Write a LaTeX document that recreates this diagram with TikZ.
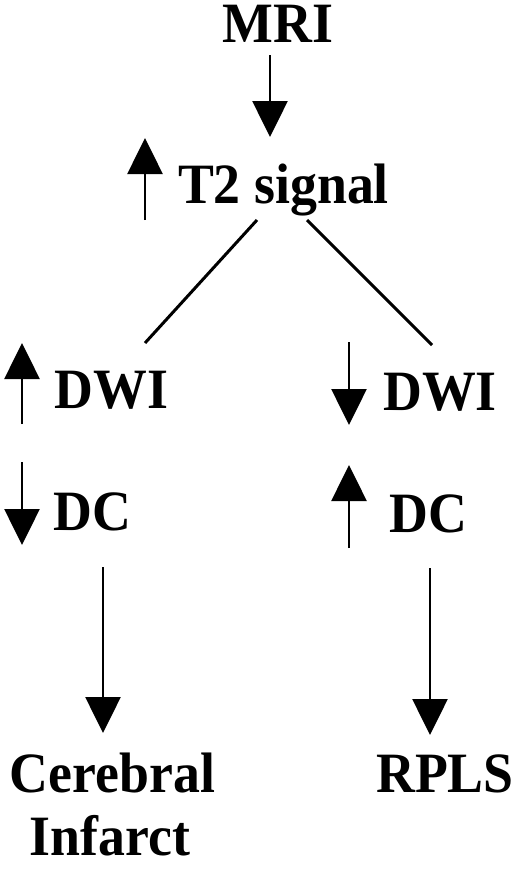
\documentclass[tikz,border=0pt]{standalone}
\usepackage{fontspec}
\setmainfont{Liberation Serif}
\usetikzlibrary{arrows.meta}
\newcommand{\tallt}[1]{\scalebox{1}[1.06]{#1}}
\begin{document}
\begin{tikzpicture}[x=1bp,y=-1bp,
  lbl/.style={inner sep=0pt,anchor=base,font=\fontsize{54}{63}\selectfont\bfseries},
  arr/.style={line width=2.6bp,-{Triangle[length=36bp,width=35bp]}},
  conn/.style={line width=3bp}]
\useasboundingbox (0,0) rectangle (520,869);
% labels
\node[lbl] (mri) at (278,42) {\tallt{MRI}};
\node[lbl] (t2) at (283.5,203) {\tallt{T2 signal}};
\node[lbl] (dwiL) at (111.5,408) {\tallt{DWI}};
\node[lbl] (dcL) at (92.5,530) {\tallt{DC}};
\node[lbl] (dwiR) at (440,410) {\tallt{DWI}};
\node[lbl] (dcR) at (428.5,532) {\tallt{DC}};
\node[lbl] (cer) at (112.5,792) {\tallt{Cerebral}};
\node[lbl] (inf) at (110,855) {\tallt{Infarct}};
\node[lbl] (rpls) at (445,792) {\tallt{RPLS}};
% connector end points
\coordinate (mriOut) at (270,55);
\coordinate (t2In) at (270,137);
\coordinate (t2L) at (257,220);
\coordinate (t2R) at (307,220);
\coordinate (dwiLIn) at (145,343);
\coordinate (dwiRIn) at (432,345);
\coordinate (dcLOut) at (103,567);
\coordinate (cerIn) at (103,733);
\coordinate (dcROut) at (430,568);
\coordinate (rplsIn) at (430,735);
% connectors
\draw[arr] (mriOut) -- (t2In);
\draw[conn] (t2L) -- (dwiLIn);
\draw[conn] (t2R) -- (dwiRIn);
\draw[arr] (dcLOut) -- (cerIn);
\draw[arr] (dcROut) -- (rplsIn);
% indicator arrows
\draw[arr] (145,220) -- (145,138);
\draw[arr] (22,424) -- (22,343);
\draw[arr] (22,462) -- (22,545);
\draw[arr] (349,342) -- (349,425);
\draw[arr] (349,548) -- (349,465);
\end{tikzpicture}
\end{document}
